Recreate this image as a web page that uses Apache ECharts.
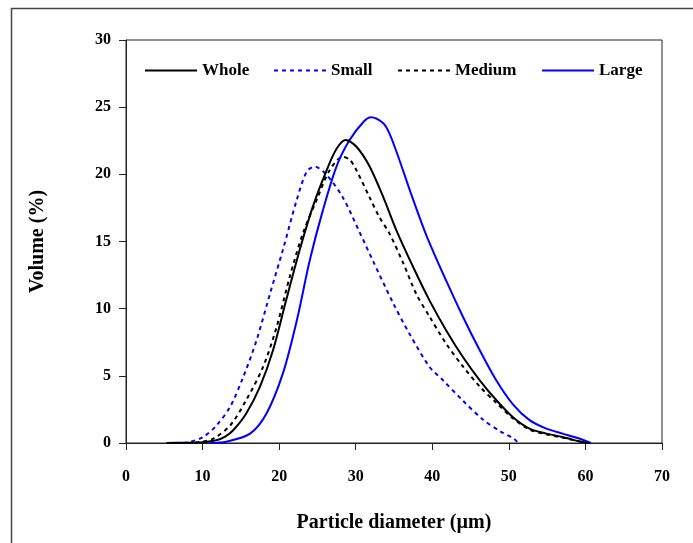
<!DOCTYPE html>
<html>
<head>
<meta charset="utf-8">
<script src="https://cdn.jsdelivr.net/npm/echarts@6/dist/echarts.min.js"></script>
<style>html,body{margin:0;padding:0;background:#fff}#c{width:693px;height:543px}</style>
</head>
<body>
<div id="c"></div>
<script>
var seriesNames = ['Whole', 'Small', 'Medium', 'Large'];
var xTicks = [0, 10, 20, 30, 40, 50, 60, 70];
var yTicks = [0, 5, 10, 15, 20, 25, 30];

var wholeData = [[5.3,0],[8,0.02],[10,0.05],[11.8,0.2],[13,0.5],[14,0.95],[15.7,2.2],[17.5,4.2],[19.2,6.9],[20.9,10.6],[22.7,14.4],[24.4,17.6],[26.2,20.3],[27.5,21.9],[28.7,22.55],[30.1,22.05],[31.8,20.6],[33.6,18.3],[35.3,15.85],[37.5,13.1],[39.65,10.6],[41.8,8.4],[44,6.4],[46.2,4.67],[48.35,3.2],[50.5,1.94],[52.7,1.07],[54.9,0.7],[57,0.45],[59.6,0.07],[60.5,0]];
var smallData = [[7.5,0],[8.3,0.07],[10.1,0.45],[11.8,1.3],[13.6,2.7],[15.3,4.9],[17.05,7.65],[18.8,11.1],[20.5,14.4],[22.3,18.1],[23.6,20.2],[24.65,20.57],[26.2,19.95],[28.3,18.3],[30.5,15.7],[32.3,13.5],[34.9,10.4],[37,8.15],[39.65,5.66],[41.4,4.67],[44,3.15],[46.6,1.75],[48.8,0.9],[50.7,0.3],[51.2,0]];
var mediumData = [[8,0],[10,0.1],[11.4,0.33],[13.6,1.3],[15.7,3.2],[17.9,5.66],[19.65,8.6],[21.4,12.4],[23.1,15.6],[24.9,18.1],[26.6,20.3],[28.3,21.3],[29.2,21.1],[30.1,20.3],[31.8,18.3],[33.1,16.8],[34.4,15.6],[36.2,13.4],[37.9,11.1],[39.65,9.4],[41.8,7.4],[44,5.7],[46.2,4.2],[48.35,3.0],[50.5,1.85],[52.7,1.0],[54.9,0.65],[57,0.4],[59.6,0.07],[60.5,0]];
var largeData = [[11,0],[13.1,0.1],[16.2,0.7],[18.35,2.2],[20.5,5.2],[22.3,9.1],[24,13.6],[25.7,17.3],[27.5,20.6],[29.2,22.55],[31,23.9],[32,24.25],[33.6,23.8],[34.4,23.05],[35.5,21.4],[37.2,18.6],[39.2,15.5],[41.8,12.1],[44,9.4],[46.2,6.9],[48.35,4.67],[50.5,2.9],[52.7,1.7],[54.9,1.07],[57,0.7],[59.2,0.33],[60.7,0]];

var seriesData = [wholeData, smallData, mediumData, largeData];
var colors = ['#000000', '#0000ff', '#000000', '#0000ff'];
var dashes = ['solid', [4, 4], [4, 4], 'solid'];
var legendLefts = [144, 273, 397, 541];

var font = 'Liberation Serif';
var chart = echarts.init(document.getElementById('c'), null, {renderer: 'canvas'});

var legends = seriesNames.map(function (n, i) {
  return {
    data: [n], left: legendLefts[i], top: 62, itemWidth: 52, itemHeight: 14,
    padding: 0, selectedMode: false,
    itemStyle: {opacity: 0},
    lineStyle: {opacity: 1},
    textStyle: {fontFamily: font, fontWeight: 'bold', fontSize: 17, color: '#000'}
  };
});

var series = seriesNames.map(function (n, i) {
  return {
    name: n, type: 'line', data: seriesData[i], smooth: 0.3, symbol: 'none',
    color: colors[i],
    lineStyle: {color: colors[i], width: 2, type: dashes[i]},
    z: i === 0 ? 5 : 3
  };
});

chart.setOption({
  animation: false,
  backgroundColor: '#fff',
  legend: legends,
  grid: {left: 126, right: 31, top: 40, bottom: 100, show: true, borderColor: '#222', borderWidth: 1},
  xAxis: {
    type: 'value', min: 0, max: 70, interval: 10,
    name: 'Particle diameter (µm)', nameLocation: 'middle', nameGap: 70,
    nameTextStyle: {fontFamily: font, fontWeight: 'bold', fontSize: 20, color: '#000'},
    axisLine: {show: true, onZero: false, lineStyle: {color: '#222', width: 1}},
    axisTick: {show: true, inside: false, length: 7, lineStyle: {color: '#222'}},
    axisLabel: {margin: 26, fontFamily: font, fontWeight: 'bold', fontSize: 16, color: '#000',
      formatter: function (v) { return xTicks.indexOf(v) >= 0 ? String(v) : ''; }},
    splitLine: {show: false}
  },
  yAxis: {
    type: 'value', min: 0, max: 30, interval: 5,
    name: 'Volume (%)', nameLocation: 'middle', nameGap: 78,
    nameTextStyle: {fontFamily: font, fontWeight: 'bold', fontSize: 20, color: '#000'},
    axisLine: {show: true, onZero: false, lineStyle: {color: '#222', width: 1}},
    axisTick: {show: true, inside: false, length: 7, lineStyle: {color: '#222'}},
    axisLabel: {margin: 15, fontFamily: font, fontWeight: 'bold', fontSize: 16, color: '#000',
      formatter: function (v) { return yTicks.indexOf(v) >= 0 ? String(v) : ''; }},
    splitLine: {show: false}
  },
  graphic: [
    {type: 'line', shape: {x1: 11, y1: 8.5, x2: 693, y2: 8.5}, style: {stroke: '#444', lineWidth: 1.5}},
    {type: 'line', shape: {x1: 11.5, y1: 8, x2: 11.5, y2: 543}, style: {stroke: '#444', lineWidth: 1.5}}
  ],
  series: series
});
</script>
</body>
</html>
